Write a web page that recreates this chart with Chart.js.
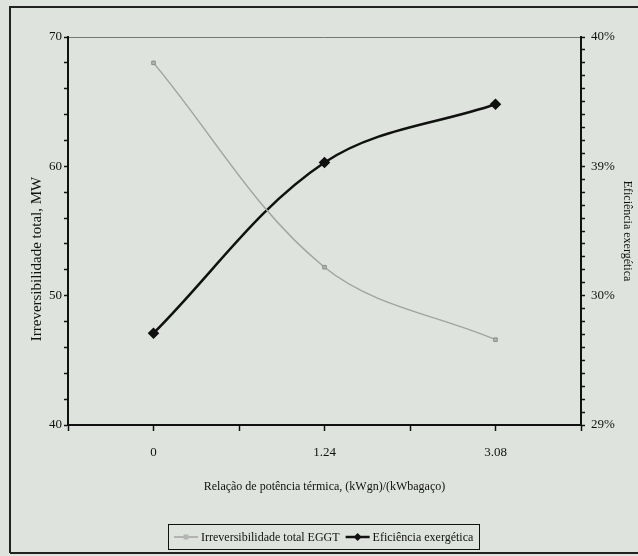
<!DOCTYPE html>
<html>
<head>
<meta charset="utf-8">
<script src="https://cdn.jsdelivr.net/npm/chart.js@4"></script>
<style>
  html, body { margin: 0; padding: 0; background: #dfe3de; }
  #wrap { width: 638px; height: 556px; }
</style>
</head>
<body>
<div id="wrap"><canvas id="chart" width="638" height="556"></canvas></div>
<script>
const categories = ['0', '1.24', '3.08'];
const irreversibilidade = [68.0, 52.2, 46.6];
const eficiencia = [29.71, 31.03, 31.48];
const rightTickLabels = { 29: '29%', 30: '30%', 31: '39%', 32: '40%' };
const leftTitle = 'Irreversibilidade total, MW';

const serif = '"Liberation Serif", "DejaVu Serif", serif';

const frame = {
    id: 'frame',
    beforeDraw(chart) {
        const c = chart.ctx;
        c.save();
        c.fillStyle = '#dfe3de';
        c.fillRect(0, 0, chart.width, chart.height);
        c.strokeStyle = '#222';
        c.lineWidth = 2;
        c.beginPath();
        c.moveTo(10, 553);
        c.lineTo(10, 7);
        c.lineTo(638, 7);
        c.moveTo(10, 553);
        c.lineTo(638, 553);
        c.stroke();
        // top edge of plot area
        const a = chart.chartArea;
        c.strokeStyle = '#777';
        c.lineWidth = 1;
        c.beginPath();
        c.moveTo(a.left, a.top + 0.5);
        c.lineTo(a.right, a.top + 0.5);
        c.stroke();
        c.restore();
    },
    afterDraw(chart) {
        const c = chart.ctx;
        const ds = chart.data.datasets;
        c.save();
        // left axis title, sits a bit below the plot centre like the original
        c.translate(37, 259);
        c.rotate(-Math.PI / 2);
        c.font = '15px ' + serif;
        c.fillStyle = '#111';
        c.textAlign = 'center';
        c.textBaseline = 'middle';
        c.fillText(leftTitle, 0, 0);
        c.restore();

        // legend box
        c.save();
        c.strokeStyle = '#111';
        c.lineWidth = 1;
        c.strokeRect(168.5, 524.5, 311, 25);
        c.font = '12px ' + serif;
        c.textBaseline = 'middle';
        let x = 174;
        const y = 537;
        ds.forEach((d, i) => {
            c.strokeStyle = d.borderColor;
            c.lineWidth = d.borderWidth;
            c.beginPath();
            c.moveTo(x, y);
            c.lineTo(x + 24, y);
            c.stroke();
            c.fillStyle = d.pointBackgroundColor;
            const r = d.pointRadius;
            c.beginPath();
            if (d.pointStyle === 'rectRot') {
                c.moveTo(x + 12, y - r);
                c.lineTo(x + 12 + r, y);
                c.lineTo(x + 12, y + r);
                c.lineTo(x + 12 - r, y);
                c.closePath();
            } else {
                c.rect(x + 12 - r, y - r, 2 * r, 2 * r);
            }
            c.fill();
            c.fillStyle = '#111';
            c.fillText(d.label, x + 27, y + 1);
            x += 27 + c.measureText(d.label).width + 6;
        });
        c.restore();
    }
};

new Chart(document.getElementById('chart').getContext('2d'), {
    type: 'line',
    data: {
        datasets: [{
            label: 'Irreversibilidade total EGGT',
            data: irreversibilidade.map((v, i) => ({ x: i, y: v })),
            yAxisID: 'y',
            borderColor: '#a3a3a3',
            borderWidth: 1.5,
            pointStyle: 'rect',
            pointRadius: 2.5,
            pointBackgroundColor: '#b4b4b4',
            pointBorderColor: '#8c8c8c',
            pointBorderWidth: 1,
            tension: 0.35,
            fill: false
        }, {
            label: 'Eficiência exergética',
            data: eficiencia.map((v, i) => ({ x: i, y: v })),
            yAxisID: 'y1',
            borderColor: '#111',
            borderWidth: 2.5,
            pointStyle: 'rectRot',
            pointRadius: 4,
            pointBackgroundColor: '#111',
            pointBorderColor: '#111',
            tension: 0.35,
            fill: false
        }]
    },
    options: {
        responsive: false,
        animation: false,
        layout: { padding: { left: 10, right: 4, top: 37, bottom: 58 } },
        plugins: { legend: { display: false }, tooltip: { enabled: false } },
        scales: {
            x: {
                type: 'linear',
                min: -0.5,
                max: 2.5,
                afterBuildTicks(axis) {
                    axis.ticks = [-0.5, 0, 0.5, 1, 1.5, 2, 2.5].map(v => ({ value: v }));
                },
                afterFit(axis) { axis.height = 73; },
                border: { color: '#111', width: 2 },
                grid: { drawOnChartArea: false, color: '#111', tickLength: 6, tickWidth: 1.5 },
                ticks: {
                    color: '#111',
                    font: { family: serif, size: 13 },
                    padding: 14,
                    autoSkip: false,
                    maxRotation: 0,
                    callback: v => Number.isInteger(v) ? categories[v] : ''
                },
                title: {
                    display: true,
                    text: 'Relação de potência térmica, (kWgn)/(kWbagaço)',
                    color: '#111',
                    font: { family: serif, size: 12 },
                    padding: { top: 14 }
                }
            },
            y: {
                position: 'left',
                min: 40,
                max: 70,
                afterFit(axis) { axis.width = 58; },
                border: { color: '#111', width: 2 },
                grid: { drawOnChartArea: false, color: '#111', tickLength: 4, tickWidth: 1.5 },
                ticks: {
                    stepSize: 2,
                    autoSkip: false,
                    color: '#111',
                    font: { family: serif, size: 13 },
                    padding: 2,
                    callback: v => v % 10 === 0 ? String(v) : ''
                }
            },
            y1: {
                position: 'right',
                min: 29,
                max: 32,
                afterFit(axis) { axis.width = 53; },
                border: { color: '#111', width: 2 },
                grid: { drawOnChartArea: false, color: '#111', tickLength: 4, tickWidth: 1.5 },
                ticks: {
                    stepSize: 0.1,
                    autoSkip: false,
                    color: '#111',
                    font: { family: serif, size: 13 },
                    padding: 6,
                    callback: v => {
                        const r = Math.round(v);
                        return Math.abs(v - r) < 1e-6 ? rightTickLabels[r] : '';
                    }
                },
                title: {
                    display: true,
                    text: 'Eficiência exergética',
                    color: '#111',
                    font: { family: serif, size: 12 },
                    padding: { top: 0 }
                }
            }
        }
    },
    plugins: [frame]
});
</script>
</body>
</html>
